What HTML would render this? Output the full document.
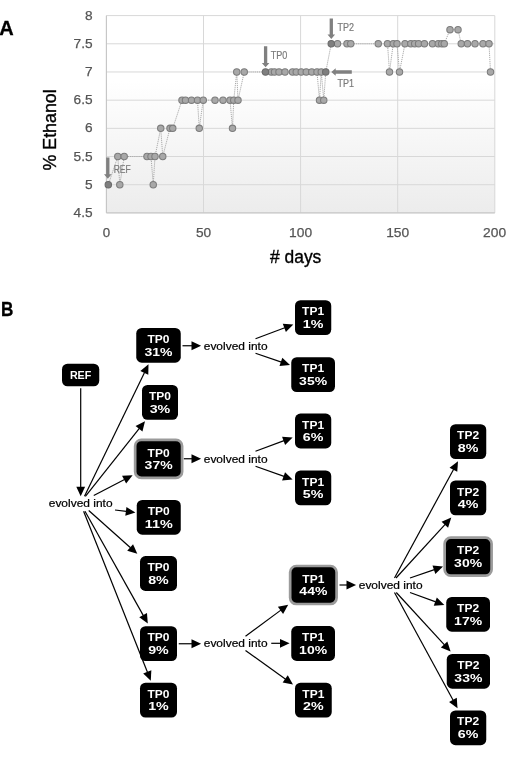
<!DOCTYPE html>
<html><head><meta charset="utf-8"><title>Figure</title>
<style>
html,body{margin:0;padding:0;background:#fff;}
body{width:520px;height:772px;overflow:hidden;font-family:"Liberation Sans",sans-serif;}
svg{display:block;filter:grayscale(1);}
text{font-family:"Liberation Sans",sans-serif;}
.tk{font-size:13.4px;fill:#555;stroke:#555;stroke-width:0.25px;}
.an{font-size:10.7px;fill:#7a7a7a;stroke:#7a7a7a;stroke-width:0.2px;}
.bx{font-size:10.5px;font-weight:bold;fill:#fff;text-anchor:middle;}
.ev{font-size:11.2px;fill:#000;stroke:#000;stroke-width:0.22px;}
</style></head><body>
<svg width="520" height="772" viewBox="0 0 520 772">
<defs>
<linearGradient id="pg" x1="0" y1="0" x2="0" y2="1">
<stop offset="0" stop-color="#ffffff"/><stop offset="0.33" stop-color="#ffffff"/><stop offset="1" stop-color="#ececec"/>
</linearGradient>
</defs>
<rect x="0" y="0" width="520" height="772" fill="#fff"/>

<rect x="106.4" y="15.6" width="388.40" height="197.30" fill="url(#pg)"/>
<line x1="106.4" x2="494.8" y1="15.60" y2="15.60" stroke="#d8d8d8" stroke-width="1"/>
<line x1="106.4" x2="494.8" y1="43.79" y2="43.79" stroke="#d8d8d8" stroke-width="1"/>
<line x1="106.4" x2="494.8" y1="71.97" y2="71.97" stroke="#d8d8d8" stroke-width="1"/>
<line x1="106.4" x2="494.8" y1="100.16" y2="100.16" stroke="#d8d8d8" stroke-width="1"/>
<line x1="106.4" x2="494.8" y1="128.34" y2="128.34" stroke="#d8d8d8" stroke-width="1"/>
<line x1="106.4" x2="494.8" y1="156.53" y2="156.53" stroke="#d8d8d8" stroke-width="1"/>
<line x1="106.4" x2="494.8" y1="184.71" y2="184.71" stroke="#d8d8d8" stroke-width="1"/>
<line x1="106.4" x2="494.8" y1="212.90" y2="212.90" stroke="#d8d8d8" stroke-width="1"/>
<line x1="106.40" x2="106.40" y1="15.6" y2="212.9" stroke="#d8d8d8" stroke-width="1"/>
<line x1="203.50" x2="203.50" y1="15.6" y2="212.9" stroke="#d8d8d8" stroke-width="1"/>
<line x1="300.60" x2="300.60" y1="15.6" y2="212.9" stroke="#d8d8d8" stroke-width="1"/>
<line x1="397.70" x2="397.70" y1="15.6" y2="212.9" stroke="#d8d8d8" stroke-width="1"/>
<line x1="494.80" x2="494.80" y1="15.6" y2="212.9" stroke="#d8d8d8" stroke-width="1"/>
<line x1="106.4" x2="106.4" y1="15.6" y2="212.9" stroke="#c4c4c4" stroke-width="1"/>
<line x1="106.4" x2="494.8" y1="212.9" y2="212.9" stroke="#c4c4c4" stroke-width="1"/>
<text class="tk" x="85.00" y="19.75" textLength="7.6" lengthAdjust="spacingAndGlyphs">8</text>
<text class="tk" x="73.60" y="47.94" textLength="19.0" lengthAdjust="spacingAndGlyphs">7.5</text>
<text class="tk" x="85.00" y="76.12" textLength="7.6" lengthAdjust="spacingAndGlyphs">7</text>
<text class="tk" x="73.60" y="104.31" textLength="19.0" lengthAdjust="spacingAndGlyphs">6.5</text>
<text class="tk" x="85.00" y="132.49" textLength="7.6" lengthAdjust="spacingAndGlyphs">6</text>
<text class="tk" x="73.60" y="160.68" textLength="19.0" lengthAdjust="spacingAndGlyphs">5.5</text>
<text class="tk" x="85.00" y="188.86" textLength="7.6" lengthAdjust="spacingAndGlyphs">5</text>
<text class="tk" x="73.60" y="217.05" textLength="19.0" lengthAdjust="spacingAndGlyphs">4.5</text>
<text class="tk" x="102.70" y="237.2" textLength="7.4" lengthAdjust="spacingAndGlyphs">0</text>
<text class="tk" x="195.90" y="237.2" textLength="15.2" lengthAdjust="spacingAndGlyphs">50</text>
<text class="tk" x="289.10" y="237.2" textLength="23" lengthAdjust="spacingAndGlyphs">100</text>
<text class="tk" x="386.20" y="237.2" textLength="23" lengthAdjust="spacingAndGlyphs">150</text>
<text class="tk" x="483.10" y="237.2" textLength="23" lengthAdjust="spacingAndGlyphs">200</text>
<text x="0" y="0" transform="translate(55.6,170.4) rotate(-90)" font-size="17.5" fill="#000" stroke="#000" stroke-width="0.35" textLength="81" lengthAdjust="spacingAndGlyphs">% Ethanol</text>
<text x="270" y="262.6" font-size="17.5" fill="#000" stroke="#000" stroke-width="0.35" textLength="51.3" lengthAdjust="spacingAndGlyphs"># days</text>
<text x="-0.8" y="35.2" font-size="20" font-weight="bold" fill="#000" stroke="#000" stroke-width="0.3">A</text>
<text x="0.9" y="316.0" font-size="20.4" font-weight="bold" fill="#000" stroke="#000" stroke-width="0.3" textLength="12.4" lengthAdjust="spacingAndGlyphs">B</text>
<path d="M108.30,184.71 L117.80,156.53 L119.80,184.71 L124.20,156.53 L147.00,156.53 L151.00,156.53 L153.25,184.71 L155.00,156.53 L160.75,128.34 L162.75,156.53 L170.00,128.34 L172.75,128.34 L182.00,100.16 L185.50,100.16 L191.50,100.16 L197.50,100.16 L199.25,128.34 L203.25,100.16 L215.00,100.16 L223.00,100.16 L230.00,100.16 L232.50,128.34 L233.75,100.16 L236.75,71.97 L238.00,100.16 L244.25,71.97 L265.50,71.97 L271.25,71.97 L274.50,71.97 L279.00,71.97 L285.00,71.97 L292.50,71.97 L296.25,71.97 L301.25,71.97 L306.25,71.97 L311.75,71.97 L317.00,71.97 L319.50,100.16 L321.25,71.97 L323.75,100.16 L325.75,71.97 L331.25,43.79 L337.50,43.79 L347.00,43.79 L350.75,43.79 L378.25,43.79 L387.50,43.79 L389.50,71.97 L393.25,43.79 L397.00,43.79 L399.50,71.97 L405.00,43.79 L410.80,43.79 L414.70,43.79 L418.60,43.79 L424.40,43.79 L432.50,43.79 L438.25,43.79 L441.75,43.79 L444.25,43.79 L450.00,29.69 L458.00,29.69 L461.25,43.79 L467.50,43.79 L475.00,43.79 L483.00,43.79 L489.00,43.79 L490.50,71.97" fill="none" stroke="#a0a0a0" stroke-width="0.9" stroke-dasharray="1.2,0.9"/>
<circle cx="117.80" cy="156.53" r="3.2" fill="#a8a8a8" stroke="#7c7c7c" stroke-width="1.05"/>
<circle cx="119.80" cy="184.71" r="3.2" fill="#a8a8a8" stroke="#7c7c7c" stroke-width="1.05"/>
<circle cx="124.20" cy="156.53" r="3.2" fill="#a8a8a8" stroke="#7c7c7c" stroke-width="1.05"/>
<circle cx="147.00" cy="156.53" r="3.2" fill="#a8a8a8" stroke="#7c7c7c" stroke-width="1.05"/>
<circle cx="151.00" cy="156.53" r="3.2" fill="#a8a8a8" stroke="#7c7c7c" stroke-width="1.05"/>
<circle cx="153.25" cy="184.71" r="3.2" fill="#a8a8a8" stroke="#7c7c7c" stroke-width="1.05"/>
<circle cx="155.00" cy="156.53" r="3.2" fill="#a8a8a8" stroke="#7c7c7c" stroke-width="1.05"/>
<circle cx="160.75" cy="128.34" r="3.2" fill="#a8a8a8" stroke="#7c7c7c" stroke-width="1.05"/>
<circle cx="162.75" cy="156.53" r="3.2" fill="#a8a8a8" stroke="#7c7c7c" stroke-width="1.05"/>
<circle cx="170.00" cy="128.34" r="3.2" fill="#a8a8a8" stroke="#7c7c7c" stroke-width="1.05"/>
<circle cx="172.75" cy="128.34" r="3.2" fill="#a8a8a8" stroke="#7c7c7c" stroke-width="1.05"/>
<circle cx="182.00" cy="100.16" r="3.2" fill="#a8a8a8" stroke="#7c7c7c" stroke-width="1.05"/>
<circle cx="185.50" cy="100.16" r="3.2" fill="#a8a8a8" stroke="#7c7c7c" stroke-width="1.05"/>
<circle cx="191.50" cy="100.16" r="3.2" fill="#a8a8a8" stroke="#7c7c7c" stroke-width="1.05"/>
<circle cx="197.50" cy="100.16" r="3.2" fill="#a8a8a8" stroke="#7c7c7c" stroke-width="1.05"/>
<circle cx="199.25" cy="128.34" r="3.2" fill="#a8a8a8" stroke="#7c7c7c" stroke-width="1.05"/>
<circle cx="203.25" cy="100.16" r="3.2" fill="#a8a8a8" stroke="#7c7c7c" stroke-width="1.05"/>
<circle cx="215.00" cy="100.16" r="3.2" fill="#a8a8a8" stroke="#7c7c7c" stroke-width="1.05"/>
<circle cx="223.00" cy="100.16" r="3.2" fill="#a8a8a8" stroke="#7c7c7c" stroke-width="1.05"/>
<circle cx="230.00" cy="100.16" r="3.2" fill="#a8a8a8" stroke="#7c7c7c" stroke-width="1.05"/>
<circle cx="232.50" cy="128.34" r="3.2" fill="#a8a8a8" stroke="#7c7c7c" stroke-width="1.05"/>
<circle cx="233.75" cy="100.16" r="3.2" fill="#a8a8a8" stroke="#7c7c7c" stroke-width="1.05"/>
<circle cx="236.75" cy="71.97" r="3.2" fill="#a8a8a8" stroke="#7c7c7c" stroke-width="1.05"/>
<circle cx="238.00" cy="100.16" r="3.2" fill="#a8a8a8" stroke="#7c7c7c" stroke-width="1.05"/>
<circle cx="244.25" cy="71.97" r="3.2" fill="#a8a8a8" stroke="#7c7c7c" stroke-width="1.05"/>
<circle cx="271.25" cy="71.97" r="3.2" fill="#a8a8a8" stroke="#7c7c7c" stroke-width="1.05"/>
<circle cx="274.50" cy="71.97" r="3.2" fill="#a8a8a8" stroke="#7c7c7c" stroke-width="1.05"/>
<circle cx="279.00" cy="71.97" r="3.2" fill="#a8a8a8" stroke="#7c7c7c" stroke-width="1.05"/>
<circle cx="285.00" cy="71.97" r="3.2" fill="#a8a8a8" stroke="#7c7c7c" stroke-width="1.05"/>
<circle cx="292.50" cy="71.97" r="3.2" fill="#a8a8a8" stroke="#7c7c7c" stroke-width="1.05"/>
<circle cx="296.25" cy="71.97" r="3.2" fill="#a8a8a8" stroke="#7c7c7c" stroke-width="1.05"/>
<circle cx="301.25" cy="71.97" r="3.2" fill="#a8a8a8" stroke="#7c7c7c" stroke-width="1.05"/>
<circle cx="306.25" cy="71.97" r="3.2" fill="#a8a8a8" stroke="#7c7c7c" stroke-width="1.05"/>
<circle cx="311.75" cy="71.97" r="3.2" fill="#a8a8a8" stroke="#7c7c7c" stroke-width="1.05"/>
<circle cx="317.00" cy="71.97" r="3.2" fill="#a8a8a8" stroke="#7c7c7c" stroke-width="1.05"/>
<circle cx="319.50" cy="100.16" r="3.2" fill="#a8a8a8" stroke="#7c7c7c" stroke-width="1.05"/>
<circle cx="321.25" cy="71.97" r="3.2" fill="#a8a8a8" stroke="#7c7c7c" stroke-width="1.05"/>
<circle cx="323.75" cy="100.16" r="3.2" fill="#a8a8a8" stroke="#7c7c7c" stroke-width="1.05"/>
<circle cx="337.50" cy="43.79" r="3.2" fill="#a8a8a8" stroke="#7c7c7c" stroke-width="1.05"/>
<circle cx="347.00" cy="43.79" r="3.2" fill="#a8a8a8" stroke="#7c7c7c" stroke-width="1.05"/>
<circle cx="350.75" cy="43.79" r="3.2" fill="#a8a8a8" stroke="#7c7c7c" stroke-width="1.05"/>
<circle cx="378.25" cy="43.79" r="3.2" fill="#a8a8a8" stroke="#7c7c7c" stroke-width="1.05"/>
<circle cx="387.50" cy="43.79" r="3.2" fill="#a8a8a8" stroke="#7c7c7c" stroke-width="1.05"/>
<circle cx="389.50" cy="71.97" r="3.2" fill="#a8a8a8" stroke="#7c7c7c" stroke-width="1.05"/>
<circle cx="393.25" cy="43.79" r="3.2" fill="#a8a8a8" stroke="#7c7c7c" stroke-width="1.05"/>
<circle cx="397.00" cy="43.79" r="3.2" fill="#a8a8a8" stroke="#7c7c7c" stroke-width="1.05"/>
<circle cx="399.50" cy="71.97" r="3.2" fill="#a8a8a8" stroke="#7c7c7c" stroke-width="1.05"/>
<circle cx="405.00" cy="43.79" r="3.2" fill="#a8a8a8" stroke="#7c7c7c" stroke-width="1.05"/>
<circle cx="410.80" cy="43.79" r="3.2" fill="#a8a8a8" stroke="#7c7c7c" stroke-width="1.05"/>
<circle cx="414.70" cy="43.79" r="3.2" fill="#a8a8a8" stroke="#7c7c7c" stroke-width="1.05"/>
<circle cx="418.60" cy="43.79" r="3.2" fill="#a8a8a8" stroke="#7c7c7c" stroke-width="1.05"/>
<circle cx="424.40" cy="43.79" r="3.2" fill="#a8a8a8" stroke="#7c7c7c" stroke-width="1.05"/>
<circle cx="432.50" cy="43.79" r="3.2" fill="#a8a8a8" stroke="#7c7c7c" stroke-width="1.05"/>
<circle cx="438.25" cy="43.79" r="3.2" fill="#a8a8a8" stroke="#7c7c7c" stroke-width="1.05"/>
<circle cx="441.75" cy="43.79" r="3.2" fill="#a8a8a8" stroke="#7c7c7c" stroke-width="1.05"/>
<circle cx="444.25" cy="43.79" r="3.2" fill="#a8a8a8" stroke="#7c7c7c" stroke-width="1.05"/>
<circle cx="450.00" cy="29.69" r="3.2" fill="#a8a8a8" stroke="#7c7c7c" stroke-width="1.05"/>
<circle cx="458.00" cy="29.69" r="3.2" fill="#a8a8a8" stroke="#7c7c7c" stroke-width="1.05"/>
<circle cx="461.25" cy="43.79" r="3.2" fill="#a8a8a8" stroke="#7c7c7c" stroke-width="1.05"/>
<circle cx="467.50" cy="43.79" r="3.2" fill="#a8a8a8" stroke="#7c7c7c" stroke-width="1.05"/>
<circle cx="475.00" cy="43.79" r="3.2" fill="#a8a8a8" stroke="#7c7c7c" stroke-width="1.05"/>
<circle cx="483.00" cy="43.79" r="3.2" fill="#a8a8a8" stroke="#7c7c7c" stroke-width="1.05"/>
<circle cx="489.00" cy="43.79" r="3.2" fill="#a8a8a8" stroke="#7c7c7c" stroke-width="1.05"/>
<circle cx="490.50" cy="71.97" r="3.2" fill="#a8a8a8" stroke="#7c7c7c" stroke-width="1.05"/>
<circle cx="108.30" cy="184.71" r="3.2" fill="#7f7f7f" stroke="#6a6a6a" stroke-width="1.05"/>
<circle cx="265.50" cy="71.97" r="3.2" fill="#7f7f7f" stroke="#6a6a6a" stroke-width="1.05"/>
<circle cx="325.75" cy="71.97" r="3.2" fill="#7f7f7f" stroke="#6a6a6a" stroke-width="1.05"/>
<circle cx="331.25" cy="43.79" r="3.2" fill="#7f7f7f" stroke="#6a6a6a" stroke-width="1.05"/>
<path d="M106.14999999999999,157.4 L109.45,157.4 L109.45,174.29999999999998 L111.6,174.29999999999998 L107.8,178.7 L104.0,174.29999999999998 L106.14999999999999,174.29999999999998 Z" fill="#808080"/>
<path d="M263.95000000000005,46.2 L267.25,46.2 L267.25,62.9 L269.40000000000003,62.9 L265.6,67.3 L261.8,62.9 L263.95000000000005,62.9 Z" fill="#808080"/>
<path d="M329.65000000000003,18.4 L332.95,18.4 L332.95,34.6 L335.1,34.6 L331.3,39.0 L327.5,34.6 L329.65000000000003,34.6 Z" fill="#808080"/>
<path d="M351.8,70.35 L351.8,73.65 L335.7,73.65 L335.7,75.8 L331.3,72 L335.7,68.2 L335.7,70.35 Z" fill="#808080"/>
<text class="an" x="113.7" y="172.9" textLength="17" lengthAdjust="spacingAndGlyphs">REF</text>
<text class="an" x="270.8" y="59.0" textLength="16.6" lengthAdjust="spacingAndGlyphs">TP0</text>
<text class="an" x="337.5" y="31.0" textLength="16.5" lengthAdjust="spacingAndGlyphs">TP2</text>
<text class="an" x="337.5" y="86.8" textLength="16.5" lengthAdjust="spacingAndGlyphs">TP1</text>
<line x1="80.70" y1="388.20" x2="80.70" y2="487.20" stroke="#000" stroke-width="1.2"/><path d="M80.70,496.30 L76.30,486.70 L85.10,486.70 Z" fill="#000"/>
<line x1="84.50" y1="496.30" x2="144.53" y2="372.49" stroke="#000" stroke-width="1.2"/><path d="M148.50,364.30 L148.27,374.86 L140.35,371.02 Z" fill="#000"/>
<line x1="85.40" y1="496.30" x2="139.34" y2="428.42" stroke="#000" stroke-width="1.2"/><path d="M145.00,421.30 L142.47,431.55 L135.58,426.08 Z" fill="#000"/>
<line x1="93.75" y1="495.50" x2="124.53" y2="479.41" stroke="#000" stroke-width="1.2"/><path d="M132.60,475.20 L126.13,483.55 L122.05,475.75 Z" fill="#000"/>
<line x1="115.00" y1="510.00" x2="126.37" y2="511.45" stroke="#000" stroke-width="1.2"/><path d="M135.40,512.60 L125.32,515.75 L126.43,507.02 Z" fill="#000"/>
<line x1="88.75" y1="510.50" x2="130.51" y2="547.74" stroke="#000" stroke-width="1.2"/><path d="M137.30,553.80 L127.21,550.69 L133.06,544.13 Z" fill="#000"/>
<line x1="85.00" y1="511.20" x2="143.36" y2="615.66" stroke="#000" stroke-width="1.2"/><path d="M147.80,623.60 L139.28,617.37 L146.96,613.07 Z" fill="#000"/>
<line x1="83.60" y1="511.20" x2="147.45" y2="672.34" stroke="#000" stroke-width="1.2"/><path d="M150.80,680.80 L143.17,673.50 L151.35,670.25 Z" fill="#000"/>
<line x1="182.50" y1="345.75" x2="192.00" y2="345.75" stroke="#000" stroke-width="1.2"/><path d="M201.10,345.75 L191.50,350.15 L191.50,341.35 Z" fill="#000"/>
<line x1="183.75" y1="458.75" x2="192.00" y2="458.75" stroke="#000" stroke-width="1.2"/><path d="M201.10,458.75 L191.50,463.15 L191.50,454.35 Z" fill="#000"/>
<line x1="178.75" y1="643.75" x2="192.00" y2="643.75" stroke="#000" stroke-width="1.2"/><path d="M201.10,643.75 L191.50,648.15 L191.50,639.35 Z" fill="#000"/>
<line x1="339.50" y1="585.00" x2="347.00" y2="585.00" stroke="#000" stroke-width="1.2"/><path d="M356.10,585.00 L346.50,589.40 L346.50,580.60 Z" fill="#000"/>
<line x1="255.50" y1="338.75" x2="284.78" y2="327.71" stroke="#000" stroke-width="1.2"/><path d="M293.30,324.50 L285.87,332.00 L282.77,323.77 Z" fill="#000"/>
<line x1="255.50" y1="353.25" x2="281.39" y2="362.07" stroke="#000" stroke-width="1.2"/><path d="M290.00,365.00 L279.49,366.07 L282.33,357.74 Z" fill="#000"/>
<line x1="255.50" y1="451.25" x2="284.07" y2="440.66" stroke="#000" stroke-width="1.2"/><path d="M292.60,437.50 L285.13,444.96 L282.07,436.71 Z" fill="#000"/>
<line x1="255.50" y1="466.25" x2="284.03" y2="476.44" stroke="#000" stroke-width="1.2"/><path d="M292.60,479.50 L282.08,480.41 L285.04,472.13 Z" fill="#000"/>
<line x1="245.50" y1="636.25" x2="280.88" y2="610.11" stroke="#000" stroke-width="1.2"/><path d="M288.20,604.70 L283.09,613.94 L277.86,606.87 Z" fill="#000"/>
<line x1="271.25" y1="643.30" x2="280.50" y2="643.30" stroke="#000" stroke-width="1.2"/><path d="M289.60,643.30 L280.00,647.70 L280.00,638.90 Z" fill="#000"/>
<line x1="245.50" y1="650.50" x2="285.60" y2="679.20" stroke="#000" stroke-width="1.2"/><path d="M293.00,684.50 L282.63,682.49 L287.75,675.33 Z" fill="#000"/>
<line x1="394.50" y1="578.00" x2="453.65" y2="469.29" stroke="#000" stroke-width="1.2"/><path d="M458.00,461.30 L457.28,471.84 L449.55,467.63 Z" fill="#000"/>
<line x1="396.00" y1="578.00" x2="445.15" y2="524.31" stroke="#000" stroke-width="1.2"/><path d="M451.30,517.60 L448.06,527.65 L441.57,521.71 Z" fill="#000"/>
<line x1="410.00" y1="578.00" x2="434.40" y2="569.57" stroke="#000" stroke-width="1.2"/><path d="M443.00,566.60 L435.36,573.89 L432.49,565.58 Z" fill="#000"/>
<line x1="410.00" y1="592.50" x2="435.75" y2="601.88" stroke="#000" stroke-width="1.2"/><path d="M444.30,605.00 L433.77,605.85 L436.79,597.58 Z" fill="#000"/>
<line x1="396.30" y1="592.50" x2="444.44" y2="644.90" stroke="#000" stroke-width="1.2"/><path d="M450.60,651.60 L440.86,647.51 L447.34,641.55 Z" fill="#000"/>
<line x1="394.50" y1="592.50" x2="453.15" y2="700.31" stroke="#000" stroke-width="1.2"/><path d="M457.50,708.30 L449.05,701.97 L456.78,697.76 Z" fill="#000"/>
<rect x="62" y="363.75" width="37.25" height="22.5" rx="5.5" ry="5.5" fill="#000"/>
<text class="bx" x="80.6" y="379.4" textLength="21.4" lengthAdjust="spacingAndGlyphs">REF</text>
<rect x="136.25" y="327.88" width="44.50" height="34.80" rx="5.5" ry="5.5" fill="#000"/><text class="bx" x="158.50" y="342.97" textLength="22.0" lengthAdjust="spacingAndGlyphs">TP0</text><text class="bx" x="158.50" y="355.57" textLength="28.0" lengthAdjust="spacingAndGlyphs">31%</text>
<rect x="142.00" y="385.00" width="36.00" height="34.80" rx="5.5" ry="5.5" fill="#000"/><text class="bx" x="160.00" y="400.10" textLength="22.0" lengthAdjust="spacingAndGlyphs">TP0</text><text class="bx" x="160.00" y="412.70" textLength="20.6" lengthAdjust="spacingAndGlyphs">3%</text>
<rect x="135.15" y="439.85" width="46.95" height="38.00" rx="6.2" ry="6.2" fill="#000" stroke="#9b9b9b" stroke-width="2.7"/><text class="bx" x="158.62" y="456.55" textLength="22.0" lengthAdjust="spacingAndGlyphs">TP0</text><text class="bx" x="158.62" y="469.15" textLength="28.0" lengthAdjust="spacingAndGlyphs">37%</text>
<rect x="136.75" y="499.88" width="44.00" height="34.80" rx="5.5" ry="5.5" fill="#000"/><text class="bx" x="158.75" y="514.98" textLength="22.0" lengthAdjust="spacingAndGlyphs">TP0</text><text class="bx" x="158.75" y="527.57" textLength="28.0" lengthAdjust="spacingAndGlyphs">11%</text>
<rect x="140.00" y="556.12" width="37.00" height="34.80" rx="5.5" ry="5.5" fill="#000"/><text class="bx" x="158.50" y="571.23" textLength="22.0" lengthAdjust="spacingAndGlyphs">TP0</text><text class="bx" x="158.50" y="583.82" textLength="20.6" lengthAdjust="spacingAndGlyphs">8%</text>
<rect x="140.00" y="626.25" width="37.00" height="34.80" rx="5.5" ry="5.5" fill="#000"/><text class="bx" x="158.50" y="641.35" textLength="22.0" lengthAdjust="spacingAndGlyphs">TP0</text><text class="bx" x="158.50" y="653.95" textLength="20.6" lengthAdjust="spacingAndGlyphs">9%</text>
<rect x="140.00" y="682.75" width="37.00" height="34.80" rx="5.5" ry="5.5" fill="#000"/><text class="bx" x="158.50" y="697.85" textLength="22.0" lengthAdjust="spacingAndGlyphs">TP0</text><text class="bx" x="158.50" y="710.45" textLength="20.6" lengthAdjust="spacingAndGlyphs">1%</text>
<rect x="295.00" y="300.25" width="36.25" height="34.80" rx="5.5" ry="5.5" fill="#000"/><text class="bx" x="313.12" y="315.35" textLength="22.0" lengthAdjust="spacingAndGlyphs">TP1</text><text class="bx" x="313.12" y="327.95" textLength="20.6" lengthAdjust="spacingAndGlyphs">1%</text>
<rect x="291.25" y="357.25" width="43.75" height="34.80" rx="5.5" ry="5.5" fill="#000"/><text class="bx" x="313.12" y="372.35" textLength="22.0" lengthAdjust="spacingAndGlyphs">TP1</text><text class="bx" x="313.12" y="384.95" textLength="28.0" lengthAdjust="spacingAndGlyphs">35%</text>
<rect x="295.00" y="413.62" width="36.25" height="34.80" rx="5.5" ry="5.5" fill="#000"/><text class="bx" x="313.12" y="428.72" textLength="22.0" lengthAdjust="spacingAndGlyphs">TP1</text><text class="bx" x="313.12" y="441.32" textLength="20.6" lengthAdjust="spacingAndGlyphs">6%</text>
<rect x="295.00" y="470.50" width="36.25" height="34.80" rx="5.5" ry="5.5" fill="#000"/><text class="bx" x="313.12" y="485.60" textLength="22.0" lengthAdjust="spacingAndGlyphs">TP1</text><text class="bx" x="313.12" y="498.20" textLength="20.6" lengthAdjust="spacingAndGlyphs">5%</text>
<rect x="290.15" y="566.02" width="46.45" height="38.00" rx="6.2" ry="6.2" fill="#000" stroke="#9b9b9b" stroke-width="2.7"/><text class="bx" x="313.38" y="582.73" textLength="22.0" lengthAdjust="spacingAndGlyphs">TP1</text><text class="bx" x="313.38" y="595.32" textLength="28.0" lengthAdjust="spacingAndGlyphs">44%</text>
<rect x="291.25" y="626.12" width="43.75" height="34.80" rx="5.5" ry="5.5" fill="#000"/><text class="bx" x="313.12" y="641.23" textLength="22.0" lengthAdjust="spacingAndGlyphs">TP1</text><text class="bx" x="313.12" y="653.82" textLength="28.0" lengthAdjust="spacingAndGlyphs">10%</text>
<rect x="295.00" y="682.75" width="36.75" height="34.80" rx="5.5" ry="5.5" fill="#000"/><text class="bx" x="313.38" y="697.85" textLength="22.0" lengthAdjust="spacingAndGlyphs">TP1</text><text class="bx" x="313.38" y="710.45" textLength="20.6" lengthAdjust="spacingAndGlyphs">2%</text>
<rect x="450.00" y="424.25" width="36.25" height="34.80" rx="5.5" ry="5.5" fill="#000"/><text class="bx" x="468.12" y="439.35" textLength="22.0" lengthAdjust="spacingAndGlyphs">TP2</text><text class="bx" x="468.12" y="451.95" textLength="20.6" lengthAdjust="spacingAndGlyphs">8%</text>
<rect x="450.00" y="480.50" width="36.25" height="34.80" rx="5.5" ry="5.5" fill="#000"/><text class="bx" x="468.12" y="495.60" textLength="22.0" lengthAdjust="spacingAndGlyphs">TP2</text><text class="bx" x="468.12" y="508.20" textLength="20.6" lengthAdjust="spacingAndGlyphs">4%</text>
<rect x="444.65" y="537.65" width="46.95" height="38.00" rx="6.2" ry="6.2" fill="#000" stroke="#9b9b9b" stroke-width="2.7"/><text class="bx" x="468.12" y="554.35" textLength="22.0" lengthAdjust="spacingAndGlyphs">TP2</text><text class="bx" x="468.12" y="566.95" textLength="28.0" lengthAdjust="spacingAndGlyphs">30%</text>
<rect x="446.25" y="596.88" width="43.75" height="34.80" rx="5.5" ry="5.5" fill="#000"/><text class="bx" x="468.12" y="611.98" textLength="22.0" lengthAdjust="spacingAndGlyphs">TP2</text><text class="bx" x="468.12" y="624.57" textLength="28.0" lengthAdjust="spacingAndGlyphs">17%</text>
<rect x="446.75" y="653.88" width="43.25" height="34.80" rx="5.5" ry="5.5" fill="#000"/><text class="bx" x="468.38" y="668.98" textLength="22.0" lengthAdjust="spacingAndGlyphs">TP2</text><text class="bx" x="468.38" y="681.57" textLength="28.0" lengthAdjust="spacingAndGlyphs">33%</text>
<rect x="450.00" y="710.38" width="36.25" height="34.80" rx="5.5" ry="5.5" fill="#000"/><text class="bx" x="468.12" y="725.48" textLength="22.0" lengthAdjust="spacingAndGlyphs">TP2</text><text class="bx" x="468.12" y="738.07" textLength="20.6" lengthAdjust="spacingAndGlyphs">6%</text>
<text class="ev" x="48.75" y="506.6" textLength="63.8" lengthAdjust="spacingAndGlyphs">evolved into</text>
<text class="ev" x="203.75" y="349.5" textLength="63.8" lengthAdjust="spacingAndGlyphs">evolved into</text>
<text class="ev" x="203.75" y="462.6" textLength="63.8" lengthAdjust="spacingAndGlyphs">evolved into</text>
<text class="ev" x="203.75" y="647.3" textLength="63.8" lengthAdjust="spacingAndGlyphs">evolved into</text>
<text class="ev" x="358.75" y="588.5" textLength="63.8" lengthAdjust="spacingAndGlyphs">evolved into</text>
</svg></body></html>
